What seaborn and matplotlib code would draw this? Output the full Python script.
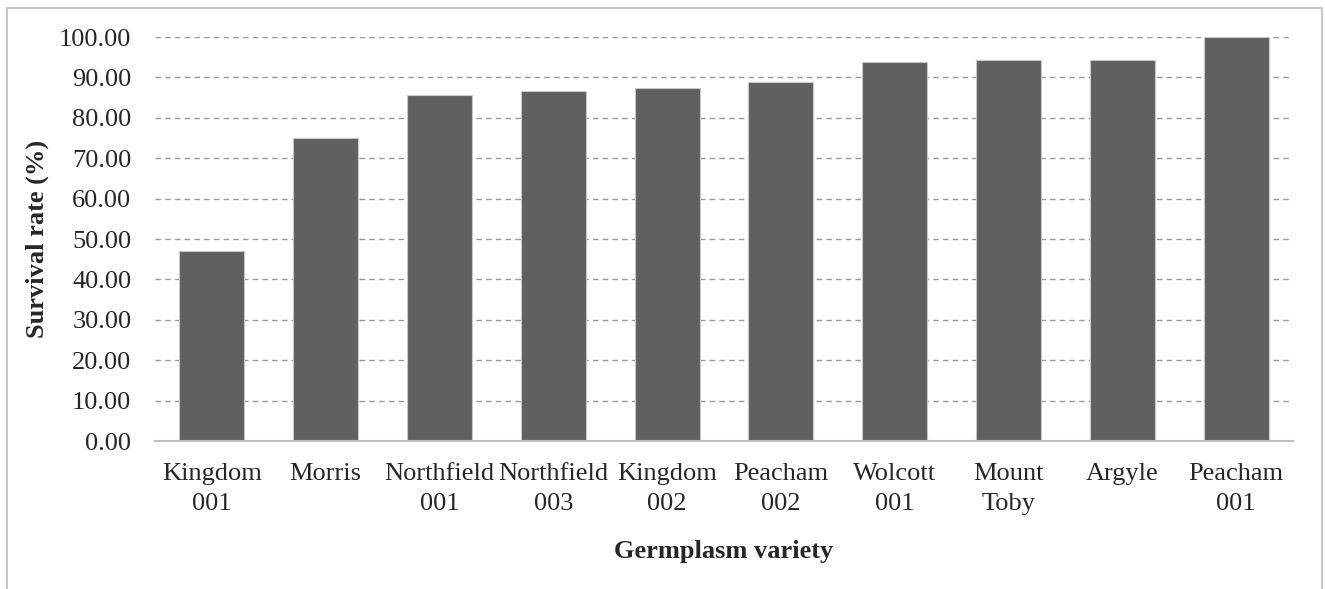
import matplotlib.pyplot as plt
import pandas as pd
import seaborn as sns
from matplotlib.patches import Rectangle

# Data
varieties = ['Kingdom\n001', 'Morris', 'Northfield\n001', 'Northfield\n003', 'Kingdom\n002',
             'Peacham\n002', 'Wolcott\n001', 'Mount\nToby', 'Argyle', 'Peacham\n001']
survival = [47.0, 75.0, 85.7, 86.6, 87.5, 88.9, 93.75, 94.4, 94.4, 100.0]
y_ticks = [0, 10, 20, 30, 40, 50, 60, 70, 80, 90, 100]

df = pd.DataFrame({'variety': varieties, 'survival': survival})

sns.set_style('white')
plt.rcParams['font.family'] = ['Liberation Serif', 'DejaVu Serif']

fig = plt.figure(figsize=(13.25, 5.89), dpi=100)
ax = fig.add_axes([155 / 1325, 1 - 441 / 589, (1293 - 155) / 1325, (441 - 37) / 589])

sns.barplot(data=df, x='variety', y='survival', color='#606060', saturation=1,
            width=0.57, edgecolor='#c8c8c8', linewidth=0.8, ax=ax, zorder=3)

ax.set_ylim(0, 100)
ax.set_xlim(-0.5, len(varieties) - 0.5)
ax.set_yticks(y_ticks)
ax.set_yticklabels([f'{v:.2f}' for v in y_ticks], fontsize=19)
ax.set_xticks(range(len(varieties)))
ax.set_xticklabels(varieties, fontsize=19, linespacing=1.48)
ax.tick_params(axis='both', length=0)
ax.tick_params(axis='y', pad=17)
ax.tick_params(axis='x', pad=16)

ax.grid(axis='y', color='#999999', linestyle=(0, (4, 3)), linewidth=1, zorder=0)
ax.set_axisbelow(True)
for side in ['left', 'right', 'top']:
    ax.spines[side].set_visible(False)
ax.spines['bottom'].set_color('#bfbfbf')
ax.spines['bottom'].set_linewidth(1.5)
ax.spines['bottom'].set_zorder(4)

ax.set_xlabel('Germplasm variety', fontsize=19, fontweight='bold', labelpad=18)
ax.set_ylabel('Survival rate (%)', fontsize=19, fontweight='bold', labelpad=7)

# light grey frame around the chart area
fig.patches.append(Rectangle((7 / 1325, -0.05), (1322 - 7) / 1325, 1.05 - 8 / 589,
                             transform=fig.transFigure, fill=False,
                             edgecolor='#bfbfbf', linewidth=1.2))

fig.savefig('out.png', dpi=100)
